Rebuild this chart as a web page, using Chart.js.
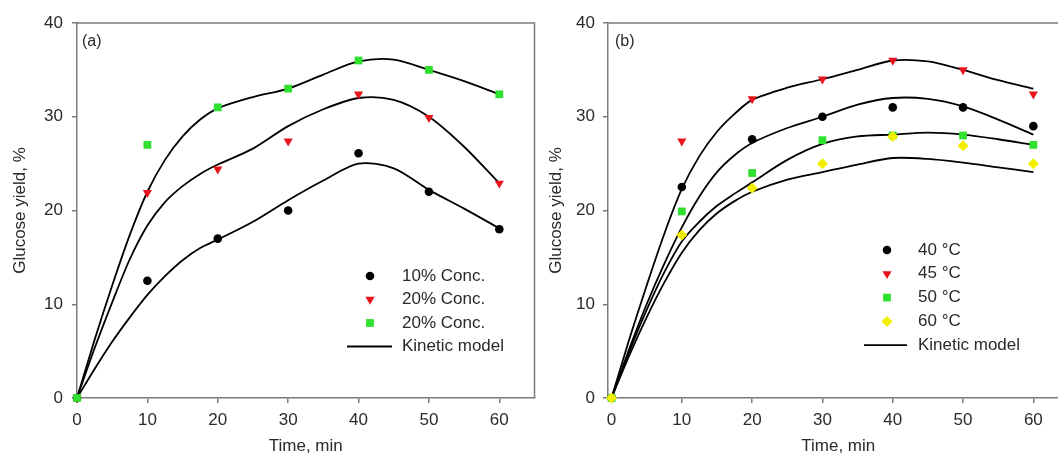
<!DOCTYPE html>
<html>
<head>
<meta charset="utf-8">
<script src="https://cdn.jsdelivr.net/npm/chart.js@4.4.1/dist/chart.umd.min.js"></script>
<style>
  html, body { margin: 0; padding: 0; background: #fff; overflow: hidden; }
  #wrap { position: relative; width: 1058px; height: 457px; overflow: hidden; }
  canvas { position: absolute; top: 0; }
  #chartA { left: 0; }
  #chartB { left: 540px; }
</style>
</head>
<body>
<div id="wrap">
  <canvas id="chartA" width="540" height="457"></canvas>
  <canvas id="chartB" width="534" height="457"></canvas>
</div>
<script>
// --- data ---
const timeMin = [0, 10, 20, 30, 40, 50, 60];
const xTicks = [0, 10, 20, 30, 40, 50, 60];
const yTicks = [0, 10, 20, 30, 40];

// panel (a): substrate concentration
const concLabels = ['10% Conc.', '20% Conc.', '20% Conc.'];
const conc10 = [0, 12.5, 17, 20, 26.1, 22, 18];
const conc20 = [0, 21.9, 24.4, 27.4, 32.4, 29.9, 22.9];
const conc20b = [0, 27, 31, 33, 36, 35, 32.4];

// panel (b): temperature
const tempLabels = ['40 \u00b0C', '45 \u00b0C', '50 \u00b0C', '60 \u00b0C'];
const temp40 = [0, 22.5, 27.6, 30, 31, 31, 29];
const temp45 = [0, 27.4, 31.9, 34, 36, 35, 32.4];
const temp50 = [0, 19.9, 24, 27.5, 28, 28, 27];
const temp60 = [0, 17.4, 22.4, 25, 27.9, 26.9, 25];

// kinetic model curves
const modelTime = [0, 2.5, 5, 7.5, 10, 12.5, 15, 17.5, 20, 25, 30, 35, 40, 45, 50, 55, 60];
const modelA1 = [0, 3.1, 6.0, 8.6, 11.0, 13.0, 14.7, 16.0, 16.9, 18.8, 21.1, 23.2, 25.0, 24.5, 22.2, 20.2, 18.1];
const modelA2 = [0, 5.3, 10.2, 14.8, 18.4, 20.9, 22.6, 23.9, 24.9, 26.6, 29.0, 30.8, 32.0, 31.8, 30.0, 26.8, 22.9];
const modelA3 = [0, 6.2, 12.0, 17.4, 22.0, 25.4, 27.9, 29.7, 30.9, 32.1, 33.0, 34.5, 35.9, 36.1, 35.0, 33.8, 32.4];
const modelB45 = [0, 6.2, 12.0, 17.5, 22.3, 25.8, 28.4, 30.3, 31.8, 33.1, 34.0, 35.0, 36.0, 35.9, 35.0, 33.9, 33.0];
const modelB40 = [0, 5.2, 10.0, 14.3, 18.2, 21.5, 24.1, 25.9, 27.2, 28.8, 30.0, 31.3, 32.0, 31.9, 31.1, 29.7, 28.1];
const modelB50 = [0, 4.9, 9.4, 13.4, 16.7, 18.8, 20.5, 21.8, 23.0, 25.4, 27.1, 27.9, 28.1, 28.3, 28.1, 27.6, 27.0];
const modelB60 = [0, 4.5, 8.6, 12.3, 15.5, 17.9, 19.7, 21.0, 22.0, 23.3, 24.1, 24.9, 25.6, 25.5, 25.1, 24.6, 24.1];

const FONT = "'Liberation Sans', Arial, sans-serif";
const TEXT = '#2a2a2a';
const AXIS = '#7a7a7a';
const FS = 17;

const markerStyles = {
    circle: { pointStyle: 'circle', radius: 4.3, rotation: 0, color: '#000000' },
    tri: { pointStyle: 'triangle', radius: 5.3, rotation: 180, color: '#e8141c' },
    square: { pointStyle: 'rect', radius: 5.5, rotation: 0, color: '#2fe02f' },
    diamond: { pointStyle: 'rectRot', radius: 5.5, rotation: 0, color: '#f2f000' }
};

function xy(xs, ys) {
    return xs.map((x, i) => ({ x: x, y: ys[i] }));
}

function pointSet(label, ys, style, order) {
    const m = markerStyles[style];
    return {
        type: 'scatter', label: label, data: xy(timeMin, ys), order: order,
        pointStyle: m.pointStyle, pointRadius: m.radius, pointRotation: m.rotation,
        backgroundColor: m.color, borderColor: m.color, borderWidth: 0,
        clip: false
    };
}

function modelSet(ys) {
    return {
        type: 'line', label: 'Kinetic model', data: xy(modelTime, ys), order: 10,
        borderColor: '#000', borderWidth: 1.8, pointRadius: 0,
        tension: 0.3, fill: false
    };
}

// frame on top/right, panel tag and legend
const panelPlugin = {
    id: 'panel',
    beforeDatasetsDraw(chart, args, opts) {
        const ctx = chart.ctx, a = chart.chartArea;
        ctx.save();
        ctx.strokeStyle = AXIS;
        ctx.lineWidth = 1.5;
        ctx.beginPath();
        ctx.moveTo(a.left, a.top);
        ctx.lineTo(a.right, a.top);
        ctx.lineTo(a.right, a.bottom);
        ctx.stroke();
        ctx.fillStyle = TEXT;
        ctx.font = '16px ' + FONT;
        ctx.textBaseline = 'middle';
        ctx.fillText(opts.tag, a.left + opts.tagDx, 42);
        ctx.restore();
    },
    afterDraw(chart, args, opts) {
        const ctx = chart.ctx;
        ctx.save();
        ctx.font = FS + 'px ' + FONT;
        ctx.textBaseline = 'middle';
        opts.items.forEach((it, i) => {
            const y = opts.y0 + i * opts.dy;
            if (it.style) {
                const m = markerStyles[it.style];
                ctx.fillStyle = m.color;
                ctx.strokeStyle = m.color;
                ctx.lineWidth = 0;
                Chart.helpers.drawPoint(ctx, { pointStyle: m.pointStyle, radius: m.radius, rotation: m.rotation, borderWidth: 0 }, opts.symX, y);
            } else {
                ctx.strokeStyle = '#000';
                ctx.lineWidth = 1.8;
                ctx.beginPath();
                ctx.moveTo(opts.lineX0, y);
                ctx.lineTo(opts.lineX1, y);
                ctx.stroke();
            }
            ctx.fillStyle = TEXT;
            ctx.fillText(it.text, opts.textX, y);
        });
        ctx.restore();
    }
};

function makeChart(id, datasets, xMin, yWidth, yTitlePad, tickPadY, panelOpts) {
    return new Chart(document.getElementById(id), {
        data: { datasets: datasets },
        plugins: [panelPlugin],
        options: {
            responsive: false,
            animation: false,
            devicePixelRatio: 1,
            layout: { padding: { left: 0, top: 23, right: 5, bottom: 0 } },
            plugins: { legend: { display: false }, tooltip: { enabled: false }, panel: panelOpts },
            scales: {
                x: {
                    type: 'linear', min: xMin, max: 65,
                    afterBuildTicks: s => { s.ticks = xTicks.map(v => ({ value: v })); },
                    afterFit: s => { s.height = 59; },
                    ticks: { color: TEXT, font: { family: FONT, size: FS }, padding: 7, maxRotation: 0 },
                    grid: { drawOnChartArea: false, drawTicks: true, tickLength: 5, color: AXIS, lineWidth: 1.5 },
                    border: { color: AXIS, width: 1.5 },
                    title: { display: true, text: 'Time, min', color: TEXT, font: { family: FONT, size: FS }, padding: { top: 0, bottom: 0 } }
                },
                y: {
                    type: 'linear', min: 0, max: 40,
                    afterBuildTicks: s => { s.ticks = yTicks.map(v => ({ value: v })); },
                    afterFit: s => { s.width = yWidth; },
                    ticks: { color: TEXT, font: { family: FONT, size: FS }, padding: tickPadY },
                    grid: { drawOnChartArea: false, drawTicks: true, tickLength: 5, color: AXIS, lineWidth: 1.5 },
                    border: { color: AXIS, width: 1.5 },
                    title: { display: true, text: 'Glucose yield, %', color: TEXT, font: { family: FONT, size: FS }, padding: { top: yTitlePad, bottom: 0 } }
                }
            }
        }
    });
}

document.addEventListener('DOMContentLoaded', function() {
    // --- panel (a) ---
    makeChart('chartA', [
        pointSet(concLabels[2], conc20b, 'square', 0),
        pointSet(concLabels[1], conc20, 'tri', 1),
        pointSet(concLabels[0], conc10, 'circle', 2),
        modelSet(modelA1), modelSet(modelA2), modelSet(modelA3)
    ], 0, 77, 10, 9, {
        tag: '(a)', tagDx: 5,
        symX: 370, textX: 402, lineX0: 347, lineX1: 392, y0: 276, dy: 23.5,
        items: [
            { style: 'circle', text: concLabels[0] },
            { style: 'tri', text: concLabels[1] },
            { style: 'square', text: concLabels[2] },
            { style: null, text: 'Kinetic model' }
        ]
    });

    // --- panel (b) ---
    makeChart('chartB', [
        pointSet(tempLabels[3], temp60, 'diamond', 0),
        pointSet(tempLabels[2], temp50, 'square', 1),
        pointSet(tempLabels[1], temp45, 'tri', 2),
        pointSet(tempLabels[0], temp40, 'circle', 3),
        modelSet(modelB45), modelSet(modelB40), modelSet(modelB50), modelSet(modelB60)
    ], -0.5, 68, 6, 8, {
        tag: '(b)', tagDx: 7,
        symX: 347, textX: 378, lineX0: 324, lineX1: 367, y0: 250, dy: 23.8,
        items: [
            { style: 'circle', text: tempLabels[0] },
            { style: 'tri', text: tempLabels[1] },
            { style: 'square', text: tempLabels[2] },
            { style: 'diamond', text: tempLabels[3] },
            { style: null, text: 'Kinetic model' }
        ]
    });
});
</script>
</body>
</html>
